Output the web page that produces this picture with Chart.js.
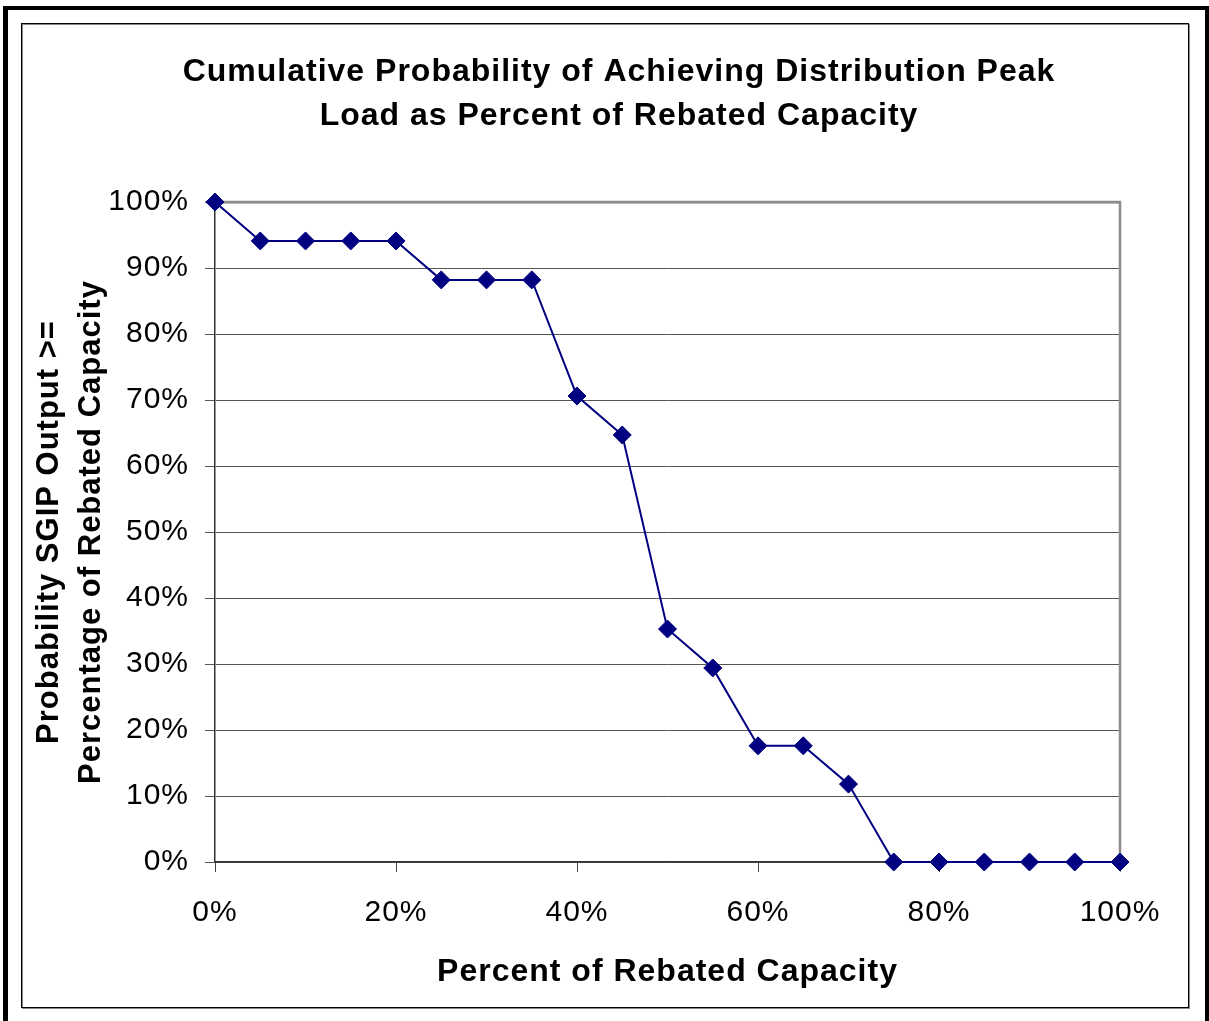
<!DOCTYPE html>
<html>
<head>
<meta charset="utf-8">
<script src="https://cdn.jsdelivr.net/npm/chart.js@4.4.1/dist/chart.umd.min.js"></script>
<style>
  html, body { margin: 0; padding: 0; background: #ffffff; }
  #wrap { position: relative; width: 1209px; height: 1021px; }
  canvas { display: block; }
</style>
</head>
<body>
<div id="wrap"><canvas id="chart" width="1209" height="1021"></canvas></div>
<script>
// Percent of rebated capacity (x) and cumulative probability (y), in percent
const capacityPct = [0, 5, 10, 15, 20, 25, 30, 35, 40, 45, 50, 55, 60, 65, 70, 75, 80, 85, 90, 95, 100];
const probabilityPct = [100, 94.1, 94.1, 94.1, 94.1, 88.2, 88.2, 88.2, 70.6, 64.7, 35.3, 29.4, 17.6, 17.6, 11.8, 0, 0, 0, 0, 0, 0];

const titleLines = [
  'Cumulative Probability of Achieving Distribution Peak',
  'Load as Percent of Rebated Capacity'
];
const xAxisTitle = 'Percent of Rebated Capacity';
const yAxisTitle = ['Probability SGIP Output >=', 'Percentage of Rebated Capacity'];

const FONT = '"Liberation Sans", Arial, Helvetica, sans-serif';

const points = capacityPct.map((x, i) => ({ x: x, y: probabilityPct[i] }));

// Frames, plot outline and the two-line heading
const decorations = {
  id: 'decorations',
  beforeDraw(chart) {
    const ctx = chart.ctx;
    ctx.letterSpacing = '1px';
    ctx.save();
    ctx.fillStyle = '#ffffff';
    ctx.fillRect(0, 0, chart.width, chart.height);
    // outer heavy frame
    ctx.fillStyle = '#000000';
    ctx.fillRect(3, 6, 5, 1015);
    ctx.fillRect(3, 6, 1206, 4);
    ctx.fillRect(1205, 6, 4, 1015);
    // inner frame
    ctx.strokeStyle = '#8a8a8a';
    ctx.lineWidth = 1;
    ctx.strokeRect(22.5, 24.5, 1167, 984);
    ctx.strokeStyle = '#000000';
    ctx.strokeRect(21.5, 23.5, 1167, 984);
    // heading
    ctx.fillStyle = '#000000';
    ctx.font = 'bold 32px ' + FONT;
    ctx.textAlign = 'center';
    ctx.textBaseline = 'middle';
    ctx.fillText(titleLines[0], 619, 72);
    ctx.fillText(titleLines[1], 619, 116);
    ctx.restore();
  },
  beforeDatasetsDraw(chart) {
    const { ctx, chartArea: a } = chart;
    ctx.save();
    ctx.strokeStyle = '#8c8c8c';
    ctx.lineWidth = 2.5;
    ctx.beginPath();
    ctx.moveTo(a.left, a.top);
    ctx.lineTo(a.right, a.top);
    ctx.lineTo(a.right, a.bottom);
    ctx.stroke();
    ctx.restore();
  }
};

new Chart(document.getElementById('chart'), {
  type: 'line',
  data: {
    datasets: [{
      data: points,
      borderColor: '#000080',
      backgroundColor: '#000080',
      borderWidth: 2,
      pointStyle: 'rectRot',
      pointRadius: 9,
      pointBorderWidth: 1,
      pointBorderColor: '#000080',
      pointBackgroundColor: '#000080',
      tension: 0,
      fill: false,
      clip: false
    }]
  },
  options: {
    responsive: false,
    devicePixelRatio: 1,
    animation: false,
    layout: { padding: { left: 22, top: 202, right: 89, bottom: 21 } },
    plugins: {
      legend: { display: false },
      title: { display: false },
      tooltip: { enabled: false }
    },
    scales: {
      x: {
        type: 'linear',
        min: 0,
        max: 100,
        afterFit(scale) { scale.height = 138; },
        ticks: {
          stepSize: 20,
          padding: 23,
          color: '#000000',
          font: { family: FONT, size: 30 },
          callback: v => v + '%'
        },
        grid: {
          drawOnChartArea: false,
          drawTicks: true,
          tickLength: 10,
          color: ctx => (ctx.tick && ctx.tick.value === 100 ? '#8c8c8c' : '#444444'),
          lineWidth: 1
        },
        border: { color: '#333333', width: 1.5 },
        title: {
          display: true,
          text: xAxisTitle,
          color: '#000000',
          font: { family: FONT, size: 32, weight: 'bold', lineHeight: 1.2 },
          padding: { top: 0, bottom: 9 }
        }
      },
      y: {
        type: 'linear',
        min: 0,
        max: 100,
        afterFit(scale) { scale.width = 193; },
        ticks: {
          stepSize: 10,
          padding: 16,
          color: '#000000',
          font: { family: FONT, size: 30 },
          callback: v => v + '%'
        },
        grid: {
          drawTicks: true,
          tickLength: 10,
          color: ctx => (ctx.tick && ctx.tick.value === 100 ? '#8c8c8c' : '#555555'),
          lineWidth: ctx => (ctx.tick && ctx.tick.value === 100 ? 2.5 : 1)
        },
        border: { color: '#333333', width: 1.5 },
        title: {
          display: true,
          text: yAxisTitle,
          color: '#000000',
          font: { family: FONT, size: 31, weight: 'bold', lineHeight: 1.35 },
          padding: { top: 7, bottom: 0 }
        }
      }
    }
  },
  plugins: [decorations]
});
</script>
</body>
</html>
